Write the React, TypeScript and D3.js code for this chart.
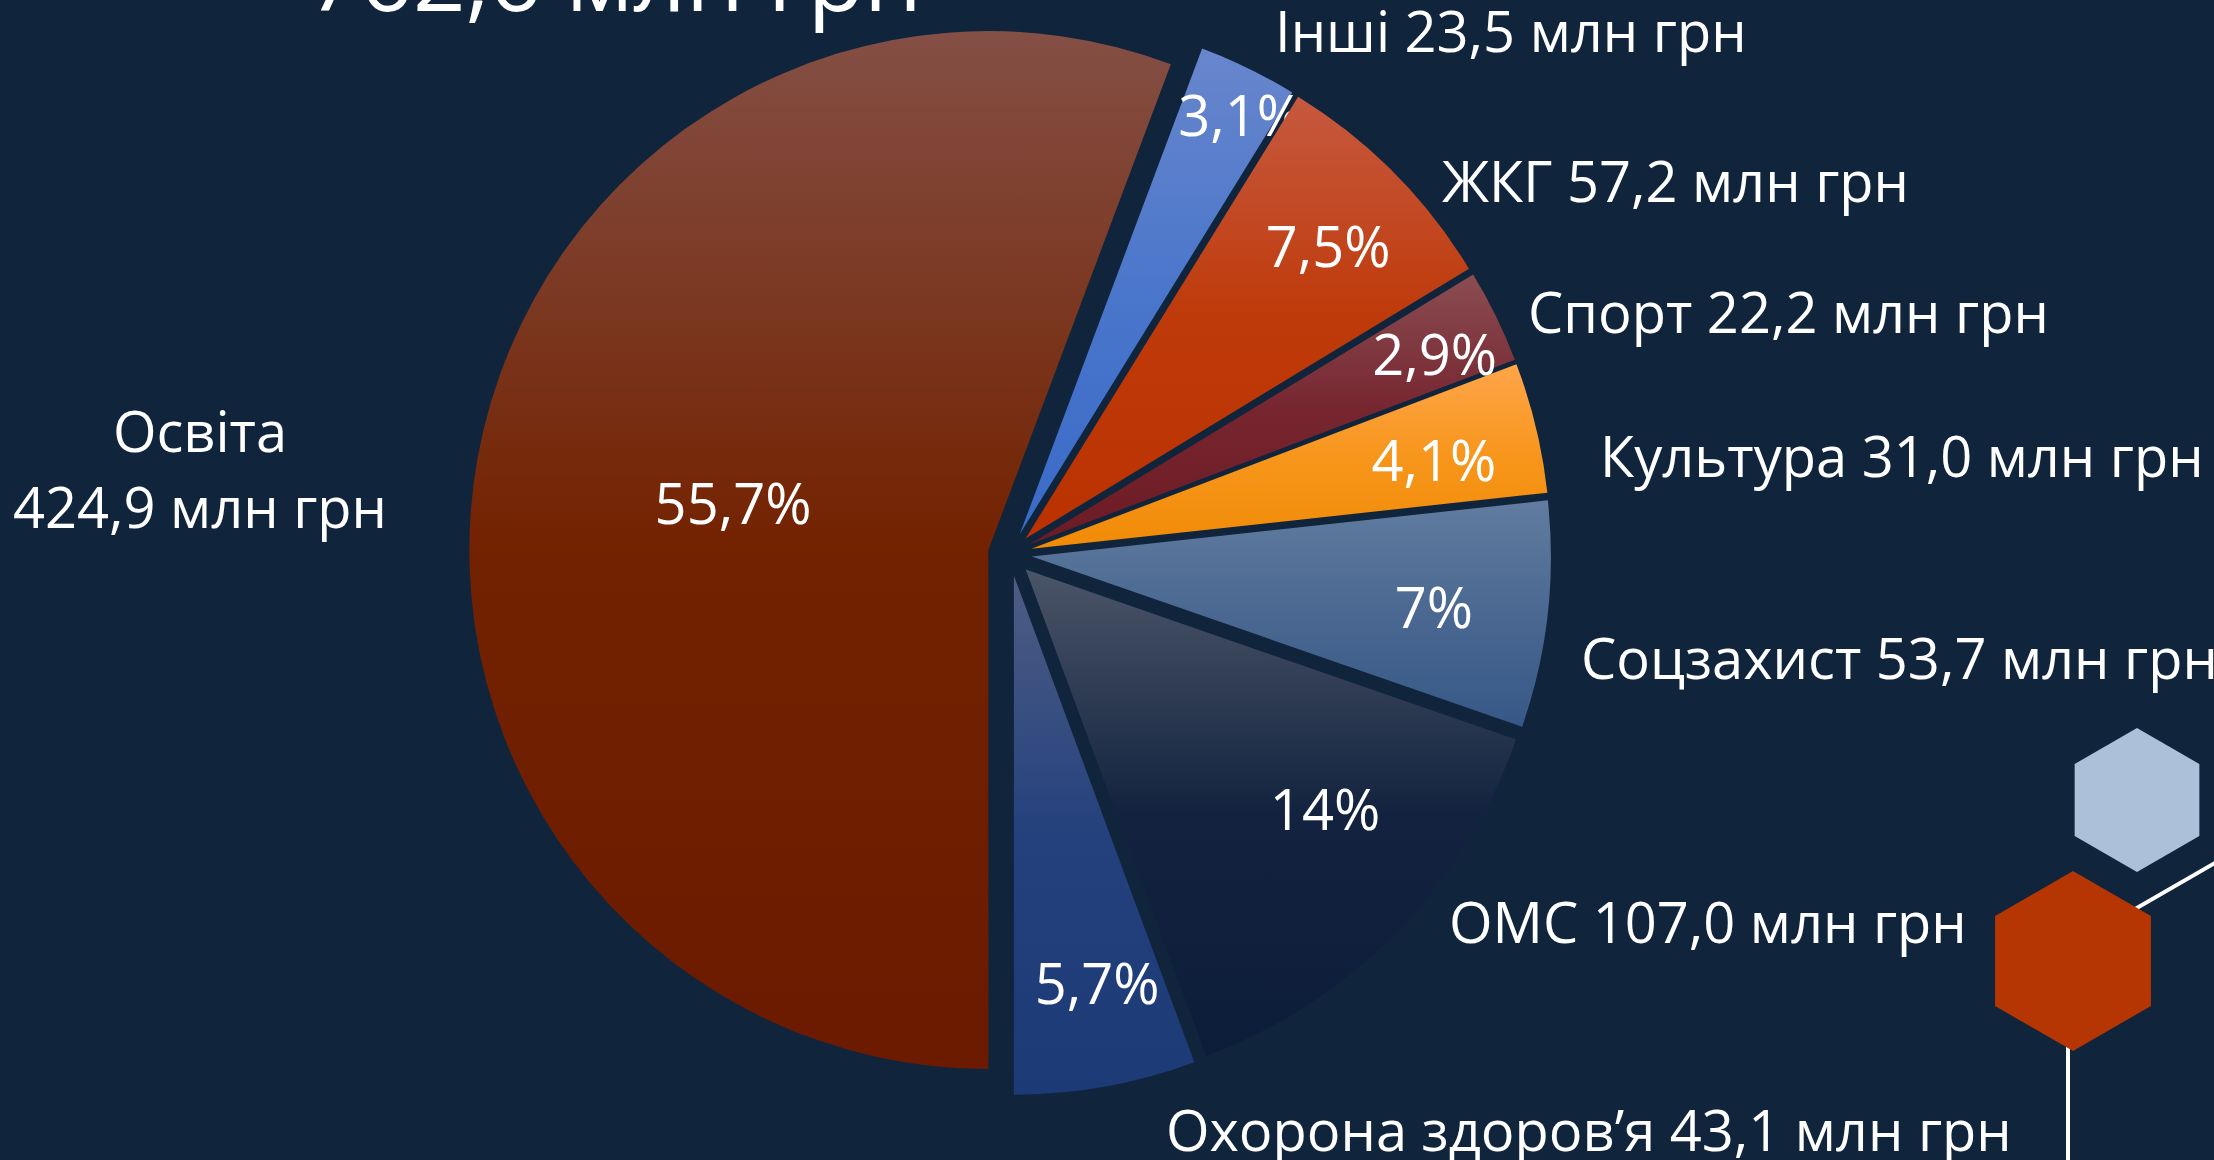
import React from 'react';
import * as d3 from 'd3';

// ---- data ----
const CATEGORIES = ['Освіта', 'Інші', 'ЖКГ', 'Спорт', 'Культура', 'Соцзахист', 'ОМС', 'Охорона здоров’я'];
const VALUES = [424.9, 23.5, 57.2, 22.2, 31.0, 53.7, 107.0, 43.1];
const PERCENT_LABELS = ['55,7%', '3,1%', '7,5%', '2,9%', '4,1%', '7%', '14%', '5,7%'];
const AMOUNT_LABELS = ['424,9 млн грн', '23,5 млн грн', '57,2 млн грн', '22,2 млн грн', '31,0 млн грн', '53,7 млн грн', '107,0 млн грн', '43,1 млн грн'];
const TITLE = '762,6 млн грн';

// ---- styles ----
const BG = '#10243c';
const GRADIENTS = [
  ['#844f45', '#732200', '#6c1a00'],
  ['#6886cc', '#4a76cb', '#3a6bc8'],
  ['#c6593f', '#bf3a0a', '#bb3200'],
  ['#8a4d52', '#772630', '#6c1a24'],
  ['#fea549', '#f7961c', '#f08b06'],
  ['#617c9f', '#4a6891', '#375887'],
  ['#4b5568', '#13233f', '#0c1d3a'],
  ['#4e5d84', '#24417d', '#1c3a75'],
];
const FONT = '"Open Sans", "Noto Sans", sans-serif';
const W = 2214;
const H = 1160;
const CX = 1010;
const CY = 554;
const R = 519;
const EXPLODE = 22;
// percent label placement: radius fraction and angular nudge (degrees)
const PCT_RADIUS = [0.5, 0.911, 0.81, 0.861, 0.794, 0.781, 0.74, 0.802];
const PCT_SHIFT = [0, 1.74, 0.87, 1.03, 1.21, 0.84, -5.6, -1.38];
// outer label layout: [x, y baseline, anchor]
const OUTER_LAYOUT: [number, number, string][] = [
  [200, 452, 'middle'],
  [1275, 52, 'start'],
  [1442, 202, 'start'],
  [1528, 333, 'start'],
  [1600, 477, 'start'],
  [1581, 679, 'start'],
  [1449, 943, 'start'],
  [1166, 1151, 'start'],
];

function hexPoints(cx: number, cy: number, r: number) {
  return d3.range(6).map((i) => {
    const a = (Math.PI / 3) * i - Math.PI / 2;
    return [cx + r * Math.cos(a), cy + r * Math.sin(a)].join(',');
  }).join(' ');
}

export default function App() {
  const pie = d3.pie<number>().sort(null).startAngle(Math.PI).endAngle(3 * Math.PI);
  const arcs = pie(VALUES);
  const arc = d3.arc<d3.PieArcDatum<number>>().innerRadius(0).outerRadius(R);
  const fs = 56;

  return (
    <svg width={W} height={H} style={{ position: 'absolute', left: 0, top: 0, display: 'block' }}>
      <rect x={0} y={0} width={W} height={H} fill={BG} />
      <defs>
        {GRADIENTS.map((g, i) => (
          <linearGradient key={i} id={`g${i}`} x1="0" y1="0" x2="0" y2="1">
            <stop offset="0" stopColor={g[0]} />
            <stop offset="0.5" stopColor={g[1]} />
            <stop offset="1" stopColor={g[2]} />
          </linearGradient>
        ))}
      </defs>

      <text x={615} y={11} fill="#ffffff" fontFamily={FONT} fontSize={92} textAnchor="middle">{TITLE}</text>

      <g transform={`translate(${CX},${CY})`}>
        {arcs.map((a, i) => {
          const mid = (a.startAngle + a.endAngle) / 2;
          const ox = EXPLODE * Math.sin(mid);
          const oy = -EXPLODE * Math.cos(mid);
          const la = mid + (PCT_SHIFT[i] * Math.PI) / 180;
          const k = PCT_RADIUS[i] * R;
          const lx = ox + k * Math.sin(la);
          const ly = oy - k * Math.cos(la);
          return (
            <g key={i}>
              <path d={arc(a) || ''} transform={`translate(${ox},${oy})`} fill={`url(#g${i})`} />
              <text x={lx} y={ly} dy="0.36em" fill="#ffffff" fontFamily={FONT} fontSize={fs} textAnchor="middle">
                {PERCENT_LABELS[i]}
              </text>
            </g>
          );
        })}
      </g>

      {CATEGORIES.map((c, i) => {
        const [x, y, anchor] = OUTER_LAYOUT[i];
        if (i === 0) {
          return (
            <text key={i} x={x} y={y} fill="#ffffff" fontFamily={FONT} fontSize={fs} textAnchor={anchor}>
              <tspan x={x}>{c}</tspan>
              <tspan x={x} y={y + 76}>{AMOUNT_LABELS[i]}</tspan>
            </text>
          );
        }
        return (
          <text key={i} x={x} y={y} fill="#ffffff" fontFamily={FONT} fontSize={fs} textAnchor={anchor}>
            {`${c} ${AMOUNT_LABELS[i]}`}
          </text>
        );
      })}

      {/* decorative hexagons */}
      <line x1={2090} y1={935} x2={2260} y2={837} stroke="#ffffff" strokeWidth={4} />
      <line x1={2068} y1={1040} x2={2068} y2={H} stroke="#ffffff" strokeWidth={4} />
      <polygon points={hexPoints(2137, 800, 72)} fill="#adc0d9" />
      <polygon points={hexPoints(2073, 961, 90)} fill="#b53602" />
    </svg>
  );
}
